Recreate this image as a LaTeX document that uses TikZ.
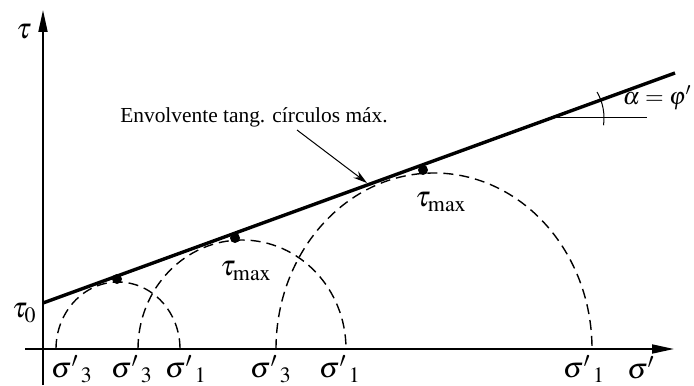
\documentclass[tikz,border=0pt]{standalone}
\usepackage{mathptmx}
\usepackage{fontspec}
\setmainfont{Liberation Serif}
\usetikzlibrary{arrows.meta,positioning,calc}
\tikzset{
  >={Triangle[length=11pt,width=4.5pt]},
  axis/.style   ={->,line width=0.9pt},
  envline/.style={line width=1.7pt},
  mohr/.style   ={dash pattern=on 5pt off 3pt,line width=0.7pt},
  tangpt/.style ={circle,fill=black,inner sep=0pt,minimum size=5pt},
  lbl/.style    ={font=\Large,inner sep=1pt},
  sig/.style    ={font=\Large,inner sep=0pt},
  note/.style   ={font=\fontsize{10.7}{13}\selectfont,inner sep=1pt},
  thinl/.style  ={line width=0.5pt},
}
\newcommand{\sg}[1]{\sigma^{\prime}{}_{\,#1}}

\begin{document}
\begin{tikzpicture}[x=0.5pt,y=0.5pt]
\useasboundingbox (0,0) rectangle (694,385);
% axes
\coordinate (ybot) at (43,0);
\coordinate (ytop) at (43,375);
\coordinate (xleft) at (25,36);
\coordinate (xright) at (674,36);
\draw[axis] (ybot) -- (ytop);
\draw[axis] (xleft) -- (xright);
\node[lbl] (tau) at (24,353) {$\tau$};
\node[lbl] (sigma) at (641,17) {$\sigma'$};
% Mohr semicircles
\draw[mohr] (56,36) arc[start angle=180,end angle=0,x radius=62,y radius=67];
\draw[mohr] (138,36) arc[start angle=180,end angle=0,x radius=104,y radius=109];
\draw[mohr] (276,36) arc[start angle=180,end angle=0,x radius=158,y radius=176];
% envelope
\coordinate (e0) at (43,82);
\coordinate (e1) at (675,312);
\draw[envline] (e0) -- (e1);
\node[lbl,anchor=east] (t0) at (39,72) {$\tau_0$};
% tangent points
\node[tangpt] (p1) at (117,106) {};
\node[tangpt] (p2) at (235,147) {};
\node[tangpt] (p3) at (423,215) {};
\node[lbl] (tm1) at (246,114) {$\tau_{\mathrm{max}}$};
\node[lbl] (tm2) at (441,183) {$\tau_{\mathrm{max}}$};
% note
\node[note] (env) at (254,268) {Envolvente tang. círculos máx.};
\coordinate (tail) at (297,255);
\coordinate (touch) at (367,202);
\draw[->,thinl,>={Stealth[length=7pt,width=4pt]}] (tail) -- (touch);
% angle
\coordinate (A) at (552,267);
\coordinate (Ah) at (647,267);
\draw[thinl] (A) -- (Ah);
\draw[thinl] ($(A)+(-8:52)$) arc[start angle=-8,end angle=30,radius=52];
\node[font=\large,inner sep=0pt,anchor=east] (ang) at (692,287) {$\alpha=\varphi'$};
% sigma labels
\node[sig] (s3a) at (72,16) {$\sg3$};
\node[sig] (s3b) at (132,16) {$\sg3$};
\node[sig] (s1a) at (186,16) {$\sg1$};
\node[sig] (s3c) at (271,16) {$\sg3$};
\node[sig] (s1b) at (340,16) {$\sg1$};
\node[sig] (s1c) at (584,16) {$\sg1$};
\end{tikzpicture}
\end{document}
